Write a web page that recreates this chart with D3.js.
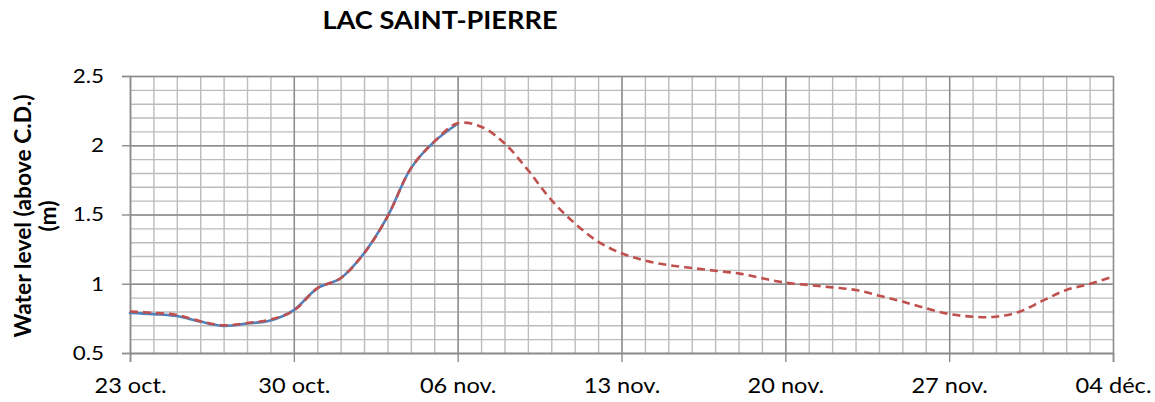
<!DOCTYPE html>
<html>
<head>
<meta charset="utf-8">
<script src="https://cdn.jsdelivr.net/npm/d3@7"></script>
<style>
  html, body { margin: 0; padding: 0; background: #ffffff; }
  svg { display: block; }
  text { font-family: Lato, "Open Sans", sans-serif; fill: #000; }
</style>
</head>
<body>
<svg id="chart" width="1155" height="402"></svg>
<script>
// ---------------- data ----------------
const chartTitle = "LAC SAINT-PIERRE";
const yTitleLines = ["Water level (above C.D.)", "(m)"];
const startDate = "2011-10-23";           // first day on the axis (daily values)
const endDate = "2011-12-04";
const xTickDates = ["2011-10-23", "2011-10-30", "2011-11-06", "2011-11-13", "2011-11-20", "2011-11-27", "2011-12-04"];
const xTickLabels = ["23 oct.", "30 oct.", "06 nov.", "13 nov.", "20 nov.", "27 nov.", "04 déc."];
const yTickValues = [0.5, 1, 1.5, 2, 2.5];
const yTickLabels = ["0.5", "1", "1.5", "2", "2.5"];
const yMinorValues = [0.5, 0.6, 0.7, 0.8, 0.9, 1.0, 1.1, 1.2, 1.3, 1.4, 1.5, 1.6, 1.7, 1.8, 1.9, 2.0, 2.1, 2.2, 2.3, 2.4, 2.5];

// observed water level (solid blue), one value per day from 23 oct.
const observed = [0.790, 0.781, 0.767, 0.727, 0.696, 0.713, 0.735, 0.810, 0.967, 1.040, 1.220, 1.484, 1.833, 2.026, 2.155];
// forecast water level (dashed red), one value per day from 23 oct.
const forecast = [0.800, 0.790, 0.775, 0.730, 0.700, 0.716, 0.742, 0.806, 0.967, 1.040, 1.220, 1.484, 1.833, 2.026, 2.158,
                  2.134, 2.014, 1.821, 1.605, 1.437, 1.304, 1.220, 1.167, 1.135, 1.114, 1.094, 1.075, 1.040, 1.008,
                  0.991, 0.974, 0.955, 0.914, 0.871, 0.823, 0.782, 0.762, 0.762, 0.798, 0.878, 0.955, 0.998, 1.051];

// ---------------- layout ----------------
const svg = d3.select("#chart");
const W = 1155, H = 402;
const m = { left: 130, right: 42, top: 76, bottom: 49 };
const pw = W - m.left - m.right, ph = H - m.top - m.bottom;

const parse = d3.utcParse("%Y-%m-%d");
const t0 = parse(startDate), t1 = parse(endDate);
const dayOf = i => d3.utcDay.offset(t0, i);

const x = d3.scaleUtc().domain([t0, t1]).range([m.left, m.left + pw]);
const y = d3.scaleLinear().domain([0.5, 2.5]).range([m.top + ph, m.top]);

const minorDays = d3.utcDay.range(t0, d3.utcDay.offset(t1, 1));
const majorDays = xTickDates.map(parse);

const g = svg.append("g");

// minor vertical grid (daily)
g.append("g")
  .attr("transform", `translate(0,${m.top + ph})`)
  .call(d3.axisBottom(x).tickValues(minorDays).tickSize(-ph).tickFormat(""))
  .call(s => s.select(".domain").remove())
  .call(s => s.selectAll("line").attr("stroke", "#bcbcbc").attr("stroke-width", 1.4));

// minor horizontal grid (0.1 m)
g.append("g")
  .attr("transform", `translate(${m.left},0)`)
  .call(d3.axisLeft(y).tickValues(yMinorValues).tickSize(-pw).tickFormat(""))
  .call(s => s.select(".domain").remove())
  .call(s => s.selectAll("line").attr("stroke", "#bcbcbc").attr("stroke-width", 1.4));

// major vertical grid (weekly)
g.append("g")
  .attr("transform", `translate(0,${m.top + ph})`)
  .call(d3.axisBottom(x).tickValues(majorDays).tickSize(-ph).tickFormat(""))
  .call(s => s.select(".domain").remove())
  .call(s => s.selectAll("line").attr("stroke", "#8c8c8c").attr("stroke-width", 1.4));

// major horizontal grid (0.5 m)
g.append("g")
  .attr("transform", `translate(${m.left},0)`)
  .call(d3.axisLeft(y).tickValues(yTickValues).tickSize(-pw).tickFormat(""))
  .call(s => s.select(".domain").remove())
  .call(s => s.selectAll("line").attr("stroke", "#8c8c8c").attr("stroke-width", 1.4));

// y axis with ticks and labels
const yAxis = g.append("g")
  .attr("transform", `translate(${m.left},0)`)
  .call(d3.axisLeft(y).tickValues(yTickValues).tickSize(8).tickPadding(18)
        .tickFormat((d, i) => yTickLabels[i]));
yAxis.select(".domain").attr("stroke", "#8c8c8c").attr("stroke-width", 1.4);
yAxis.selectAll("line").attr("stroke", "#8c8c8c").attr("stroke-width", 1.4);
yAxis.selectAll("text").attr("font-size", 19.5).attr("font-family", "Lato").attr("fill", "#000");

// x axis with ticks and labels
const xAxis = g.append("g")
  .attr("transform", `translate(0,${m.top + ph})`)
  .call(d3.axisBottom(x).tickValues(majorDays).tickSize(9).tickPadding(16)
        .tickFormat((d, i) => xTickLabels[i]));
xAxis.select(".domain").attr("stroke", "#8c8c8c").attr("stroke-width", 1.6);
xAxis.selectAll("line").attr("stroke", "#8c8c8c").attr("stroke-width", 1.4);
xAxis.selectAll("text").attr("font-size", 20.5).attr("font-family", "Lato").attr("fill", "#000");

// lines
const line = d3.line()
  .x((d, i) => x(dayOf(i)))
  .y(d => y(d))
  .curve(d3.curveCatmullRom.alpha(0.5));

g.append("path").datum(observed)
  .attr("d", line).attr("fill", "none")
  .attr("stroke", "#4F81BD").attr("stroke-width", 2.6).attr("stroke-linecap", "round");

g.append("path").datum(forecast)
  .attr("d", line).attr("fill", "none")
  .attr("stroke", "#C0504D").attr("stroke-width", 2.6)
  .attr("stroke-dasharray", "8,5");

// title
svg.append("text").attr("class", "title")
  .attr("x", 440).attr("y", 29).attr("text-anchor", "middle")
  .attr("font-size", 24.5).attr("font-weight", "bold")
  .text(chartTitle);

// y title (two rotated lines)
const yt = svg.append("g").attr("class", "ytitle");
yt.selectAll("text").data(yTitleLines).join("text")
  .attr("transform", (d, i) => `translate(${i === 0 ? 31 : 56},216) rotate(-90)`)
  .attr("text-anchor", "middle")
  .attr("font-size", 22).attr("font-weight", "bold")
  .text(d => d);

// ---------- horizontal stretch of text to mimic the reference ----------
function fitTexts() {
  const k = 1.15;
  svg.selectAll(".tick text").each(function () {
    this.removeAttribute("textLength");
    const w = this.getComputedTextLength();
    this.setAttribute("textLength", (w * k).toFixed(1));
    this.setAttribute("lengthAdjust", "spacingAndGlyphs");
  });
  const tt = svg.select(".title").node();
  tt.setAttribute("textLength", 235);
  tt.setAttribute("lengthAdjust", "spacingAndGlyphs");
  // rotated y title: fit its length by font size
  const l0 = yt.select("text").node();
  yt.selectAll("text").attr("font-size", 22);
  const len = l0.getComputedTextLength();
  yt.selectAll("text").attr("font-size", (22 * 243 / len).toFixed(2));
}
fitTexts();
if (document.fonts && document.fonts.ready) document.fonts.ready.then(fitTexts);
</script>
</body>
</html>
